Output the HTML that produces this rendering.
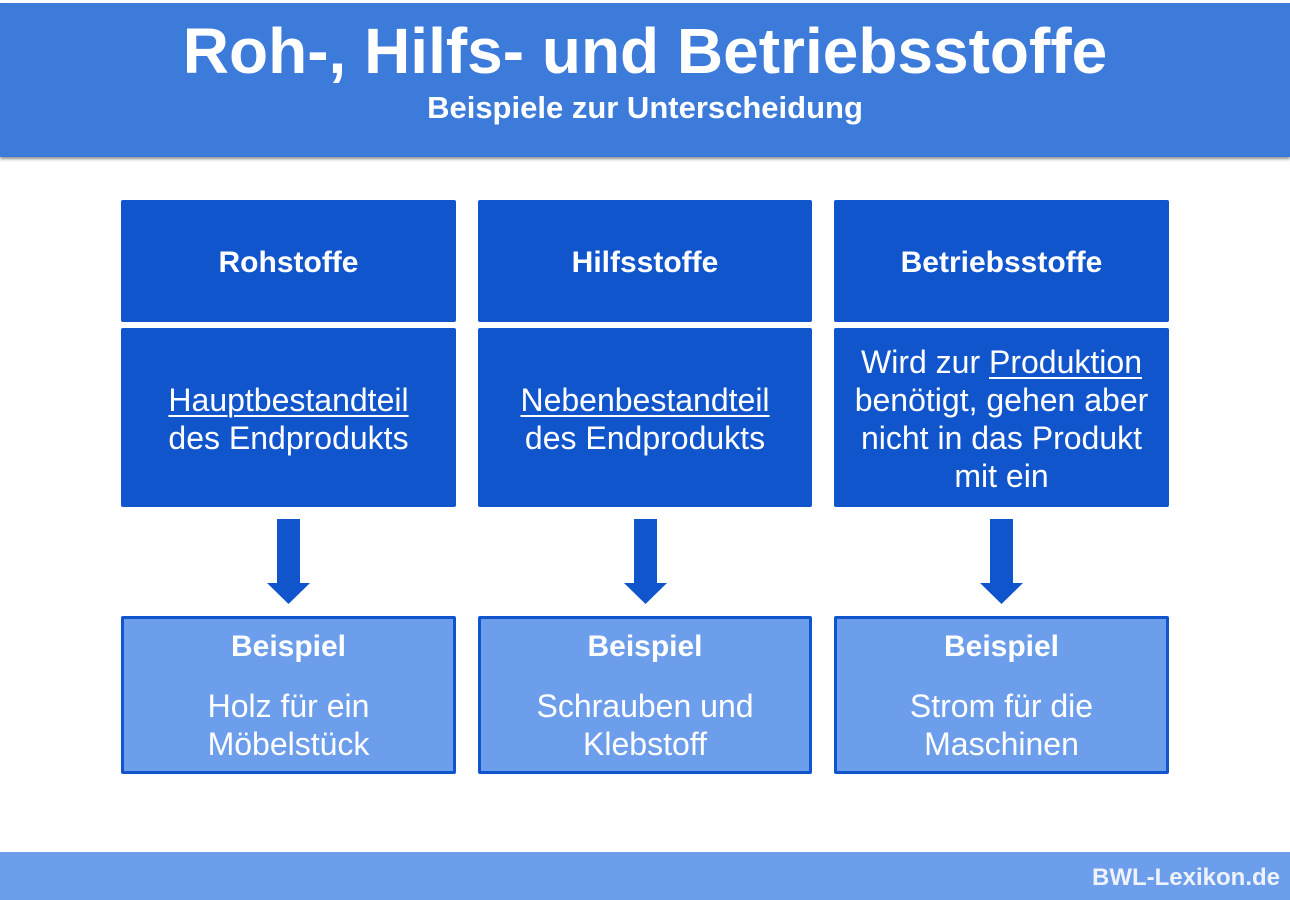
<!DOCTYPE html>
<html><head><meta charset="utf-8"><style>
body{margin:0;width:1290px;height:900px;background:#fff;position:relative;overflow:hidden;font-family:"Liberation Sans",Arial,sans-serif;color:#fff}
.hdr{position:absolute;left:0;top:3px;width:1290px;height:154px;background:#3d7bdb;box-shadow:0 2px 3px rgba(0,0,0,.45)}
.t1{position:absolute;left:0;width:1290px;top:16px;text-align:center;font-weight:bold;font-size:64px;line-height:70px}
.t2{position:absolute;left:0;width:1290px;top:91px;text-align:center;font-weight:bold;font-size:31px;line-height:34px}
.box{position:absolute;display:flex;align-items:center;justify-content:center;text-align:center;box-sizing:border-box;border-radius:2px}
.d{background:#1155cc}
.h{font-weight:bold;font-size:30px;padding-top:3px}
.b{font-size:32px;line-height:38px;padding-top:3px}
.l{background:#6d9eeb;border:3px solid #1155cc;flex-direction:column;justify-content:flex-start}
.l .bt{font-weight:bold;font-size:30px;margin-top:10px;line-height:36px}
.l .bb{font-size:32px;line-height:38px;margin-top:22px}
u{text-decoration-thickness:2px;text-underline-offset:4px}
.ar{position:absolute}
.ft{position:absolute;left:0;top:852px;width:1290px;height:48px;background:#6d9eeb}
.ft span{position:absolute;right:10px;top:12px;font-weight:bold;font-size:24px;color:#eef3fb}
</style></head><body>
<div class="hdr"></div>
<div class="t1">Roh-, Hilfs- und Betriebsstoffe</div>
<div class="t2">Beispiele zur Unterscheidung</div>

<div class="box d h" style="left:121px;top:200px;width:335px;height:122px">Rohstoffe</div>
<div class="box d h" style="left:478px;top:200px;width:334px;height:122px">Hilfsstoffe</div>
<div class="box d h" style="left:834px;top:200px;width:335px;height:122px">Betriebsstoffe</div>

<div class="box d b" style="left:121px;top:328px;width:335px;height:179px"><div><u>Hauptbestandteil</u><br>des Endprodukts</div></div>
<div class="box d b" style="left:478px;top:328px;width:334px;height:179px"><div><u>Nebenbestandteil</u><br>des Endprodukts</div></div>
<div class="box d b" style="left:834px;top:328px;width:335px;height:179px"><div>Wird zur <u>Produktion</u><br>benötigt, gehen aber<br>nicht in das Produkt<br>mit ein</div></div>

<svg class="ar" style="left:0;top:0" width="1290" height="900">
<g fill="#1155cc">
<path d="M277 519h23v64h10l-21.5 21l-21.5-21h10z"/>
<path d="M634 519h23v64h10l-21.5 21l-21.5-21h10z"/>
<path d="M990 519h23v64h10l-21.5 21l-21.5-21h10z"/>
</g></svg>

<div class="box l" style="left:121px;top:616px;width:335px;height:158px"><div class="bt">Beispiel</div><div class="bb">Holz für ein<br>Möbelstück</div></div>
<div class="box l" style="left:478px;top:616px;width:334px;height:158px"><div class="bt">Beispiel</div><div class="bb">Schrauben und<br>Klebstoff</div></div>
<div class="box l" style="left:834px;top:616px;width:335px;height:158px"><div class="bt">Beispiel</div><div class="bb">Strom für die<br>Maschinen</div></div>

<div class="ft"><span>BWL-Lexikon.de</span></div>
</body></html>
